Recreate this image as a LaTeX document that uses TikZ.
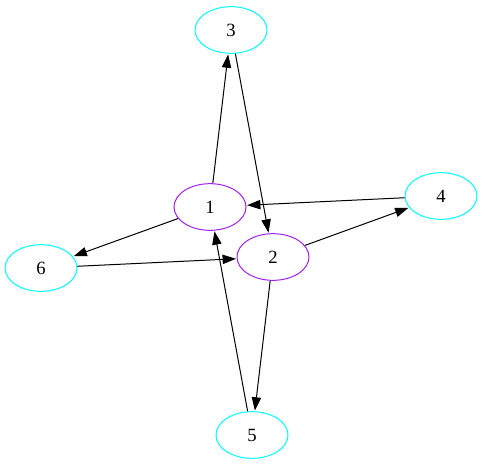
\documentclass[tikz,border=0pt]{standalone}
\usepackage{fontspec}
\setmainfont{Liberation Serif}
\usepackage{tikz}
\usetikzlibrary{arrows.meta,shapes.geometric}
\definecolor{GraphCyan}{RGB}{0,255,255}
\definecolor{GraphPurple}{RGB}{160,32,240}

\begin{document}
\begin{tikzpicture}[x=0.75pt,y=-0.75pt,
  vertex/.style={ellipse,draw=GraphCyan,line width=0.75pt,minimum width=54pt,minimum height=35pt,inner sep=0pt,font=\fontsize{14}{16}\selectfont},
  hub/.style={vertex,draw=GraphPurple},
  arrow/.style={-{Triangle[length=10pt,width=7pt]},line width=0.75pt,draw=black,shorten >=0.5pt}]
  \useasboundingbox (0,0) rectangle (484,465);
  \node[vertex] (n3) at (231,30) {3};
  \node[hub] (n1) at (210,207) {1};
  \node[vertex] (n4) at (441,196) {4};
  \node[vertex] (n6) at (41,268) {6};
  \node[hub] (n2) at (273,257) {2};
  \node[vertex] (n5) at (252,435) {5};
  \draw[arrow] (n1)--(n3);
  \draw[arrow] (n3)--(n2);
  \draw[arrow] (n4)--(n1);
  \draw[arrow] (n1)--(n6);
  \draw[arrow] (n6)--(n2);
  \draw[arrow] (n2)--(n4);
  \draw[arrow] (n2)--(n5);
  \draw[arrow] (n5)--(n1);
\end{tikzpicture}
\end{document}
